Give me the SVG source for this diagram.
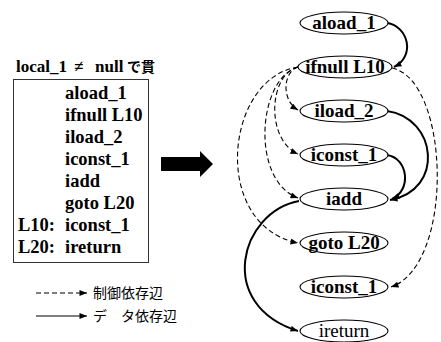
<svg xmlns="http://www.w3.org/2000/svg" width="441" height="342" viewBox="0 0 441 342">
  <style>
    .serif { font-family: "Liberation Serif", "Times New Roman", Times, "DejaVu Serif", serif; }
    .code { font-weight: bold; font-size: 18.5px; fill: #000; }
    .title { font-weight: bold; font-size: 17px; fill: #000; }
    .cjk { font-family: "Noto Sans CJK JP", sans-serif; font-size: 14px; }
    .legend { font-family: "Noto Sans CJK JP", sans-serif; font-size: 14px; fill: #000; }
    .node ellipse { fill: #fff; stroke: #000; stroke-width: 1.1; }
    .node text { font-family: "Liberation Serif", "Times New Roman", Times, "DejaVu Serif", serif; font-weight: bold; font-size: 19px; text-anchor: middle; fill: #000; }
    .node text.plain { font-weight: normal; }
    .data { fill: none; stroke: #000; stroke-width: 2; marker-end: url(#head); }
    .ctrl { fill: none; stroke: #000; stroke-width: 1.1; stroke-dasharray: 5 3; marker-end: url(#head); }
  </style>
  <defs>
    <marker id="head" viewBox="0 0 10 8" refX="10" refY="4" markerWidth="8" markerHeight="6" markerUnits="userSpaceOnUse" orient="auto">
      <path d="M0,0 L10,4 L0,8 z" fill="#000"/>
    </marker>
  </defs>

  <!-- bytecode listing -->
  <g id="listing">
    <text class="title serif" x="16" y="72">local_1 <tspan x="74">≠</tspan> <tspan x="95">null</tspan> <tspan class="cjk" x="127">で貫</tspan></text>
    <rect x="13.5" y="79.5" width="135" height="183" fill="#fff" stroke="#333" stroke-width="1"/>
    <g class="code serif">
      <text x="65" y="99">aload_1</text>
      <text x="65" y="121">ifnull L10</text>
      <text x="65" y="143">iload_2</text>
      <text x="65" y="165">iconst_1</text>
      <text x="65" y="187">iadd</text>
      <text x="65" y="209">goto L20</text>
      <text x="18" y="231">L10:</text>
      <text x="65" y="231">iconst_1</text>
      <text x="18" y="253">L20:</text>
      <text x="65" y="253">ireturn</text>
    </g>
  </g>

  <!-- transformation arrow -->
  <g id="bigArrow">
    <path d="M161,157 L200,157 L200,151 L213,164 L200,177 L200,171 L161,171 z" fill="#000"/>
  </g>

  <!-- legend -->
  <g id="legend">
    <path d="M36,293 L87,293" class="ctrl"/>
    <text class="legend" x="93" y="298">制御依存辺</text>
    <path d="M36,316 L87,316" fill="none" stroke="#000" stroke-width="1.2" marker-end="url(#head)"/>
    <text class="legend" x="93" y="321">デ　タ依存辺</text>
  </g>

  <!-- dependence edges -->
  <g id="edges">
    <path class="data" d="M387,23 C408,26 416,56 394,67"/>
    <path class="data" d="M387,111 C437,118 445,190 390,200"/>
    <path class="data" d="M387,155 C408,158 412,190 392,199"/>
    <path class="data" d="M299,201 C240,212 215,305 298,331"/>
    <path class="ctrl" d="M298,67 C283,72 281,100 298,110"/>
    <path class="ctrl" d="M298,67 C268,75 266,140 298,154"/>
    <path class="ctrl" d="M298,67 C258,78 250,180 298,198"/>
    <path class="ctrl" d="M298,67 C225,78 210,225 298,243"/>
    <path class="ctrl" d="M392,68 C450,80 455,265 391,287"/>
  </g>

  <!-- graph nodes -->
  <g id="n_aload_1" class="node"><ellipse cx="344" cy="23" rx="44" ry="11"/><text x="344" y="29">aload_1</text></g>
  <g id="n_ifnull" class="node"><ellipse cx="345" cy="67" rx="47" ry="11"/><text x="345" y="73">ifnull L10</text></g>
  <g id="n_iload_2" class="node"><ellipse cx="344" cy="111" rx="44" ry="11"/><text x="344" y="117">iload_2</text></g>
  <g id="n_iconst_1a" class="node"><ellipse cx="344" cy="155" rx="44" ry="11"/><text x="344" y="161">iconst_1</text></g>
  <g id="n_iadd" class="node"><ellipse cx="344" cy="199" rx="44" ry="11"/><text x="344" y="205">iadd</text></g>
  <g id="n_goto" class="node"><ellipse cx="344" cy="243" rx="44" ry="11"/><text x="344" y="249">goto L20</text></g>
  <g id="n_iconst_1b" class="node"><ellipse cx="344" cy="287" rx="44" ry="11"/><text x="344" y="293">iconst_1</text></g>
  <g id="n_ireturn" class="node"><ellipse cx="344" cy="331" rx="44" ry="11"/><text class="plain" x="344" y="337">ireturn</text></g>
</svg>
